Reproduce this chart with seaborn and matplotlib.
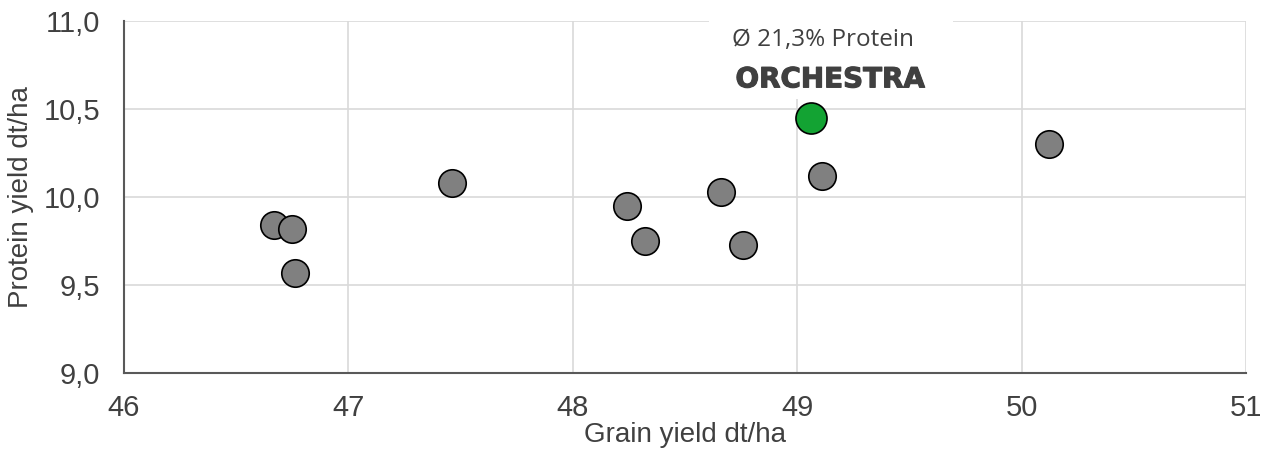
import matplotlib
matplotlib.use('Agg')
import matplotlib.pyplot as plt
import matplotlib.patheffects as pe
import seaborn as sns
import pandas as pd
from matplotlib.patches import Rectangle

# Grain yield vs protein yield per variety (dt/ha)
grain_yield   = [46.67, 46.75, 46.76, 47.46, 48.24, 48.32, 48.66, 48.76, 49.11, 50.12, 49.06]
protein_yield = [9.84, 9.82, 9.57, 10.08, 9.95, 9.75, 10.03, 9.73, 10.12, 10.30, 10.45]
variety_group = ['other'] * 10 + ['ORCHESTRA']

df = pd.DataFrame({'grain': grain_yield, 'protein': protein_yield, 'group': variety_group})

sns.set_style('whitegrid')
plt.rcParams['font.family'] = ['Liberation Sans', 'DejaVu Sans']

fig = plt.figure(figsize=(12.76, 4.53), dpi=100)
ax = fig.add_axes([0.0972, 0.1766, 0.8793, 0.777])

text_col = '#404040'
sns.scatterplot(data=df[df['group'] == 'other'], x='grain', y='protein', ax=ax,
                color='#808080', edgecolor='black', linewidth=1.2, s=390, zorder=3)
sns.scatterplot(data=df[df['group'] == 'ORCHESTRA'], x='grain', y='protein', ax=ax,
                color='#13A333', edgecolor='black', linewidth=1.2, s=500, zorder=3)

ax.set_xlim(46, 51)
ax.set_ylim(9.0, 11.0)
ax.set_xticks([46, 47, 48, 49, 50, 51])
ax.set_yticks([9.0, 9.5, 10.0, 10.5, 11.0])
ax.set_yticklabels([f'{v:.1f}'.replace('.', ',') for v in [9.0, 9.5, 10.0, 10.5, 11.0]])

ax.grid(True, color='#d9d9d9', linewidth=1.2)
for side in ['top', 'right']:
    ax.spines[side].set_visible(False)
for side in ['left', 'bottom']:
    ax.spines[side].set_color('#595959')
    ax.spines[side].set_linewidth(1.5)
    ax.spines[side].set_zorder(4)

ax.tick_params(axis='x', length=0, labelsize=21, labelcolor=text_col, pad=15)
ax.tick_params(axis='y', length=0, labelsize=21, labelcolor=text_col, pad=17)
ax.set_xlabel('Grain yield dt/ha', fontsize=20, color=text_col, labelpad=0)
ax.set_ylabel('Protein yield dt/ha', fontsize=20, color=text_col, labelpad=7)

# white label box above ORCHESTRA
ax.add_patch(Rectangle((48.607, 10.557), 1.087, 0.6, facecolor='white',
                       edgecolor='none', clip_on=False, zorder=2))
ax.text(49.115, 10.858, 'Ø 21,3% Protein', ha='center', va='baseline',
        fontsize=17.5, color=text_col, family=['Open Sans', 'DejaVu Sans'], zorder=5)
ax.text(49.146, 10.623, 'ORCHESTRA', ha='center', va='baseline', fontsize=20,
        fontweight='heavy', color=text_col, family=['DejaVu Sans'], zorder=5,
        path_effects=[pe.withStroke(linewidth=0.8, foreground=text_col)])

fig.savefig('out.png', dpi=100)
